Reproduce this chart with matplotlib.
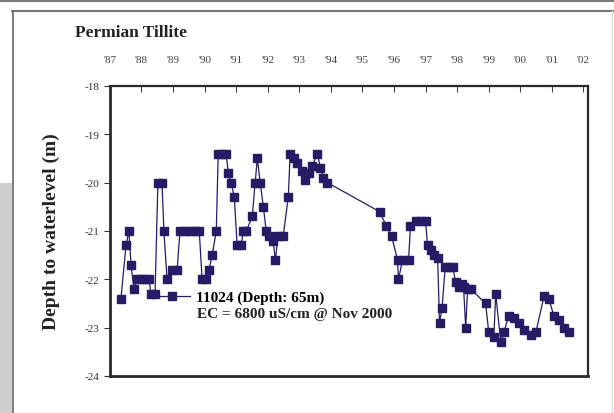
import matplotlib
matplotlib.use('Agg')
import matplotlib.pyplot as plt
from matplotlib.lines import Line2D
from matplotlib.patches import Rectangle

# monitoring borehole 11024, depth to waterlevel (m)
years = [1987.35, 1987.51, 1987.60, 1987.67, 1987.76, 1987.86, 1987.98, 1988.11,
         1988.24, 1988.30, 1988.43, 1988.52, 1988.65, 1988.71, 1988.81, 1988.97,
         1989.13, 1989.22, 1989.38, 1989.54, 1989.70, 1989.83, 1989.92, 1990.05,
         1990.14, 1990.24, 1990.37, 1990.43, 1990.56, 1990.68, 1990.75, 1990.84,
         1990.94, 1991.03, 1991.16, 1991.22, 1991.32, 1991.51, 1991.60, 1991.67,
         1991.76, 1991.86, 1991.95, 1992.05, 1992.17, 1992.24, 1992.33, 1992.49,
         1992.65, 1992.71, 1992.84, 1992.94, 1993.10, 1993.19, 1993.32, 1993.41,
         1993.57, 1993.67, 1993.76, 1993.89, 1995.54, 1995.76, 1995.92, 1996.11,
         1996.14, 1996.27, 1996.46, 1996.52, 1996.68, 1996.84, 1997.00, 1997.06,
         1997.16, 1997.25, 1997.38, 1997.44, 1997.52, 1997.62, 1997.73, 1997.86,
         1997.95, 1998.05, 1998.14, 1998.20, 1998.27, 1998.33, 1998.43, 1998.90,
         1999.00, 1999.16, 1999.22, 1999.38, 1999.48, 1999.63, 1999.79, 1999.95,
         2000.11, 2000.33, 2000.49, 2000.75, 2000.90, 2001.06, 2001.22, 2001.38,
         2001.54]
depth = [-22.4, -21.3, -21.0, -21.7, -22.2, -22.0, -22.0, -22.0,
         -22.0, -22.3, -22.3, -20.0, -20.0, -21.0, -22.0, -21.8,
         -21.8, -21.0, -21.0, -21.0, -21.0, -21.0, -22.0, -22.0,
         -21.8, -21.5, -21.0, -19.4, -19.4, -19.4, -19.8, -20.0,
         -20.3, -21.3, -21.3, -21.0, -21.0, -20.7, -20.0, -19.5,
         -20.0, -20.5, -21.0, -21.1, -21.2, -21.6, -21.1, -21.1,
         -20.3, -19.4, -19.5, -19.6, -19.75, -19.95, -19.8, -19.65,
         -19.4, -19.7, -19.9, -20.0, -20.6, -20.9, -21.1, -21.6,
         -22.0, -21.6, -21.6, -20.9, -20.8, -20.8, -20.8, -21.3,
         -21.4, -21.5, -21.55, -22.9, -22.6, -21.75, -21.75, -21.75,
         -22.05, -22.15, -22.1, -22.15, -23.0, -22.2, -22.2, -22.5,
         -23.1, -23.2, -22.3, -23.3, -23.1, -22.75, -22.8, -22.9,
         -23.05, -23.15, -23.1, -22.35, -22.4, -22.75, -22.85, -23.0,
         -23.1]

tick_years = list(range(1987, 2003))
tick_labels = ["'%02d" % (y % 100) for y in tick_years]
y_ticks = [-18, -19, -20, -21, -22, -23, -24]

navy = '#271b66'
serif = ['Liberation Serif', 'DejaVu Serif']

fig = plt.figure(figsize=(6.14, 4.14), dpi=100)
ax = fig.add_axes([0.179, 0.0894, 0.779, 0.7006])

ax.plot(years, depth, color=navy, lw=0.9, marker='s', ms=5.5,
        mfc=navy, mec=navy, label='11024 (Depth: 65m)')

ax.set_xlim(1987.0, 2002.15)
ax.set_ylim(-24, -18)
ax.set_yticks(y_ticks)
ax.set_yticklabels([str(v) for v in y_ticks], family=serif, fontsize=8,
                   color='#333333')
ax.set_xticks(tick_years)
ax.set_xticklabels(tick_labels, family=serif, fontsize=8, color='#444444')
ax.xaxis.set_ticks_position('top')
ax.tick_params(axis='x', direction='in', length=4, width=0.8, pad=16,
               colors='#444444')
ax.tick_params(axis='y', direction='out', length=4, width=0.8,
               colors='#333333')

for side in ['left', 'bottom', 'top', 'right']:
    ax.spines[side].set_color('#2a2a2a')
    ax.spines[side].set_linewidth(2.0 if side in ('left', 'bottom') else 1.6)

ax.set_ylabel('Depth to waterlevel (m)', family=serif, fontsize=14,
              fontweight='bold', labelpad=18, color='#222222')

# legend entry and note
ax.legend(loc='center left', bbox_to_anchor=(0.094, 0.272), frameon=False,
          handlelength=2.3, handletextpad=0.4, borderpad=0, borderaxespad=0,
          prop={'family': serif, 'size': 11, 'weight': 'bold'})
ax.text(0.182, 0.214, 'EC = 6800 uS/cm @ Nov 2000', transform=ax.transAxes,
        family=serif, fontsize=11, fontweight='bold', color='#222222',
        va='center')

fig.text(0.122, 0.92, 'Permian Tillite', family=serif, fontsize=12.5,
         fontweight='bold', color='#222222', va='center')

# page frame
fig.add_artist(Line2D([0, 1], [0.995, 0.995], color='#777777', lw=1.5))
fig.add_artist(Line2D([0.02, 1], [0.972, 0.972], color='#777777', lw=1.5))
fig.add_artist(Line2D([0.021, 0.021], [0, 0.972], color='#666666', lw=1.2))
fig.add_artist(Line2D([0.996, 0.996], [0, 0.972], color='#dddddd', lw=1.0))
fig.add_artist(Rectangle((0, 0), 0.019, 0.555, color='#cfcfcf', lw=0))

fig.savefig('out.png', dpi=100)
